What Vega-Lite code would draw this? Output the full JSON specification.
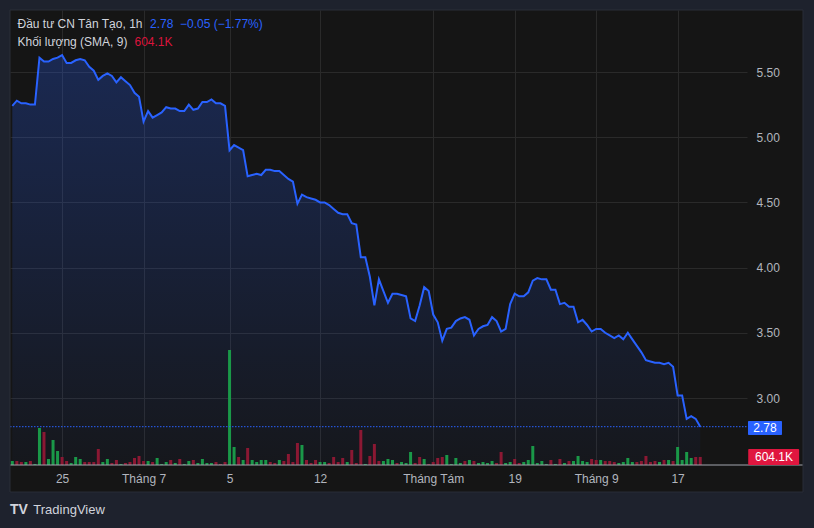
{
  "$schema": "https://vega.github.io/schema/vega-lite/v6.json",
  "width": 737,
  "height": 455,
  "autosize": {"type": "none"},
  "padding": {"left": 10, "top": 10, "right": 67, "bottom": 63},
  "background": "#151515",
  "view": {"fill": "#151515", "stroke": null},
  "config": {"font": "Liberation Sans"},
  "datasets": {
    "bars": [
      {"i":1,"c":5.24,"v":300,"s":"u"},{"i":2,"c":5.28,"v":300,"s":"d"},{"i":3,"c":5.26,"v":225,"s":"d"},{"i":4,"c":5.26,"v":225,"s":"u"},{"i":5,"c":5.25,"v":300,"s":"d"},
      {"i":6,"c":5.25,"v":75,"s":"u"},{"i":7,"c":5.61,"v":2775,"s":"u"},{"i":8,"c":5.58,"v":2475,"s":"d"},{"i":9,"c":5.58,"v":450,"s":"u"},{"i":10,"c":5.60,"v":1875,"s":"u"},
      {"i":11,"c":5.61,"v":1050,"s":"u"},{"i":12,"c":5.63,"v":600,"s":"d"},{"i":13,"c":5.57,"v":300,"s":"d"},{"i":14,"c":5.57,"v":150,"s":"u"},{"i":15,"c":5.59,"v":600,"s":"u"},
      {"i":16,"c":5.60,"v":450,"s":"u"},{"i":17,"c":5.59,"v":225,"s":"d"},{"i":18,"c":5.54,"v":225,"s":"d"},{"i":19,"c":5.51,"v":225,"s":"d"},{"i":20,"c":5.44,"v":1200,"s":"d"},
      {"i":21,"c":5.47,"v":225,"s":"u"},{"i":22,"c":5.49,"v":450,"s":"u"},{"i":23,"c":5.47,"v":150,"s":"d"},{"i":24,"c":5.42,"v":375,"s":"d"},{"i":25,"c":5.46,"v":75,"s":"u"},
      {"i":26,"c":5.43,"v":150,"s":"d"},{"i":27,"c":5.40,"v":225,"s":"d"},{"i":28,"c":5.34,"v":525,"s":"d"},{"i":29,"c":5.31,"v":675,"s":"d"},{"i":30,"c":5.12,"v":300,"s":"d"},
      {"i":31,"c":5.20,"v":300,"s":"u"},{"i":32,"c":5.15,"v":225,"s":"d"},{"i":33,"c":5.17,"v":525,"s":"u"},{"i":34,"c":5.19,"v":75,"s":"u"},{"i":35,"c":5.23,"v":225,"s":"u"},
      {"i":36,"c":5.22,"v":375,"s":"d"},{"i":37,"c":5.22,"v":150,"s":"u"},{"i":38,"c":5.20,"v":450,"s":"d"},{"i":39,"c":5.20,"v":75,"s":"u"},{"i":40,"c":5.25,"v":300,"s":"u"},
      {"i":41,"c":5.21,"v":375,"s":"d"},{"i":42,"c":5.22,"v":150,"s":"u"},{"i":43,"c":5.27,"v":450,"s":"u"},{"i":44,"c":5.27,"v":150,"s":"u"},{"i":45,"c":5.29,"v":150,"s":"u"},
      {"i":46,"c":5.26,"v":225,"s":"d"},{"i":47,"c":5.26,"v":75,"s":"d"},{"i":48,"c":5.24,"v":225,"s":"d"},{"i":49,"c":4.90,"v":8625,"s":"u"},{"i":50,"c":4.94,"v":1350,"s":"u"},
      {"i":51,"c":4.92,"v":600,"s":"d"},{"i":52,"c":4.90,"v":375,"s":"u"},{"i":53,"c":4.70,"v":1275,"s":"d"},{"i":54,"c":4.71,"v":375,"s":"u"},{"i":55,"c":4.72,"v":225,"s":"u"},
      {"i":56,"c":4.71,"v":375,"s":"u"},{"i":57,"c":4.75,"v":375,"s":"u"},{"i":58,"c":4.75,"v":225,"s":"d"},{"i":59,"c":4.74,"v":150,"s":"d"},{"i":60,"c":4.74,"v":375,"s":"u"},
      {"i":61,"c":4.71,"v":300,"s":"d"},{"i":62,"c":4.68,"v":825,"s":"d"},{"i":63,"c":4.66,"v":225,"s":"d"},{"i":64,"c":4.49,"v":1650,"s":"d"},{"i":65,"c":4.56,"v":1500,"s":"u"},
      {"i":66,"c":4.54,"v":375,"s":"d"},{"i":67,"c":4.53,"v":150,"s":"d"},{"i":68,"c":4.52,"v":375,"s":"d"},{"i":69,"c":4.50,"v":225,"s":"u"},{"i":70,"c":4.50,"v":225,"s":"u"},
      {"i":71,"c":4.48,"v":150,"s":"d"},{"i":72,"c":4.45,"v":600,"s":"d"},{"i":73,"c":4.42,"v":225,"s":"d"},{"i":74,"c":4.41,"v":525,"s":"d"},{"i":75,"c":4.41,"v":225,"s":"u"},
      {"i":76,"c":4.34,"v":1125,"s":"d"},{"i":77,"c":4.33,"v":150,"s":"d"},{"i":78,"c":4.08,"v":2625,"s":"d"},{"i":79,"c":4.08,"v":75,"s":"u"},{"i":80,"c":3.93,"v":675,"s":"d"},
      {"i":81,"c":3.71,"v":1575,"s":"d"},{"i":82,"c":3.91,"v":300,"s":"d"},{"i":83,"c":3.82,"v":300,"s":"u"},{"i":84,"c":3.73,"v":450,"s":"u"},{"i":85,"c":3.80,"v":375,"s":"u"},
      {"i":86,"c":3.80,"v":150,"s":"d"},{"i":87,"c":3.79,"v":225,"s":"u"},{"i":88,"c":3.78,"v":150,"s":"u"},{"i":89,"c":3.61,"v":975,"s":"u"},{"i":90,"c":3.59,"v":150,"s":"d"},
      {"i":91,"c":3.71,"v":600,"s":"d"},{"i":92,"c":3.85,"v":450,"s":"u"},{"i":93,"c":3.82,"v":75,"s":"d"},{"i":94,"c":3.64,"v":225,"s":"d"},{"i":95,"c":3.58,"v":525,"s":"d"},
      {"i":96,"c":3.44,"v":600,"s":"d"},{"i":97,"c":3.53,"v":750,"s":"u"},{"i":98,"c":3.54,"v":75,"s":"u"},{"i":99,"c":3.59,"v":525,"s":"u"},{"i":100,"c":3.61,"v":150,"s":"u"},
      {"i":101,"c":3.62,"v":300,"s":"d"},{"i":102,"c":3.60,"v":375,"s":"u"},{"i":103,"c":3.48,"v":300,"s":"d"},{"i":104,"c":3.53,"v":150,"s":"u"},{"i":105,"c":3.55,"v":225,"s":"u"},
      {"i":106,"c":3.56,"v":150,"s":"u"},{"i":107,"c":3.62,"v":300,"s":"u"},{"i":108,"c":3.59,"v":150,"s":"d"},{"i":109,"c":3.51,"v":975,"s":"d"},{"i":110,"c":3.53,"v":150,"s":"u"},
      {"i":111,"c":3.72,"v":225,"s":"u"},{"i":112,"c":3.80,"v":450,"s":"d"},{"i":113,"c":3.78,"v":150,"s":"d"},{"i":114,"c":3.78,"v":225,"s":"u"},{"i":115,"c":3.81,"v":375,"s":"u"},
      {"i":116,"c":3.90,"v":1425,"s":"u"},{"i":117,"c":3.92,"v":150,"s":"u"},{"i":118,"c":3.91,"v":300,"s":"u"},{"i":119,"c":3.91,"v":75,"s":"u"},{"i":120,"c":3.83,"v":375,"s":"d"},
      {"i":121,"c":3.83,"v":75,"s":"u"},{"i":122,"c":3.72,"v":450,"s":"d"},{"i":123,"c":3.73,"v":150,"s":"u"},{"i":124,"c":3.70,"v":300,"s":"d"},{"i":125,"c":3.70,"v":300,"s":"u"},
      {"i":126,"c":3.58,"v":675,"s":"u"},{"i":127,"c":3.60,"v":300,"s":"u"},{"i":128,"c":3.56,"v":225,"s":"u"},{"i":129,"c":3.51,"v":450,"s":"d"},{"i":130,"c":3.53,"v":375,"s":"d"},
      {"i":131,"c":3.53,"v":375,"s":"u"},{"i":132,"c":3.50,"v":300,"s":"d"},{"i":133,"c":3.48,"v":300,"s":"d"},{"i":134,"c":3.46,"v":225,"s":"d"},{"i":135,"c":3.48,"v":150,"s":"u"},
      {"i":136,"c":3.45,"v":225,"s":"u"},{"i":137,"c":3.50,"v":525,"s":"u"},{"i":138,"c":3.45,"v":225,"s":"u"},{"i":139,"c":3.40,"v":225,"s":"d"},{"i":140,"c":3.35,"v":300,"s":"d"},
      {"i":141,"c":3.29,"v":675,"s":"d"},{"i":142,"c":3.28,"v":225,"s":"d"},{"i":143,"c":3.27,"v":300,"s":"d"},{"i":144,"c":3.27,"v":225,"s":"u"},{"i":145,"c":3.26,"v":375,"s":"d"},
      {"i":146,"c":3.27,"v":375,"s":"u"},{"i":147,"c":3.24,"v":300,"s":"d"},{"i":148,"c":3.02,"v":1350,"s":"u"},{"i":149,"c":3.02,"v":375,"s":"u"},{"i":150,"c":2.84,"v":975,"s":"u"},
      {"i":151,"c":2.86,"v":525,"s":"u"},{"i":152,"c":2.84,"v":600,"s":"d"},{"i":153,"c":2.78,"v":604,"s":"d"}
    ]
  },
  "data": {"name": "bars"},
  "resolve": {"scale": {"y": "independent"}},
  "layer": [
    {
      "mark": {
        "type": "area",
        "color": {
          "gradient": "linear", "x1": 0, "y1": 0, "x2": 0, "y2": 1,
          "stops": [
            {"offset": 0, "color": "rgba(41,98,255,0.26)"},
            {"offset": 1, "color": "rgba(41,98,255,0.03)"}
          ]
        }
      },
      "encoding": {
        "x": {"field": "i", "type": "quantitative", "scale": {"domain": [0.49, 163.33], "nice": false, "zero": false, "padding": 0}},
        "y": {"field": "c", "type": "quantitative", "scale": {"domain": [2.4862, 5.9755], "nice": false, "zero": false}, "axis": null},
        "y2": {"datum": 2.4862}
      }
    },
    {
      "mark": {"type": "bar", "width": 3},
      "encoding": {
        "x": {"field": "i", "type": "quantitative", "scale": {"domain": [0.49, 163.33], "nice": false, "zero": false, "padding": 0}},
        "y": {"field": "v", "type": "quantitative", "scale": {"domain": [0, 34125], "nice": false}, "axis": null},
        "color": {"field": "s", "type": "nominal", "scale": {"domain": ["u", "d"], "range": ["#1a9848", "#8b1833"]}, "legend": null}
      }
    },
    {
      "mark": {"type": "line", "color": "#2962ff", "strokeWidth": 2},
      "encoding": {
        "x": {
          "field": "i", "type": "quantitative",
          "scale": {"domain": [0.49, 163.33], "nice": false, "zero": false, "padding": 0},
          "axis": {
            "title": null, "values": [12, 30, 49, 69, 94, 112, 130, 148],
            "labelExpr": "datum.value == 12 ? '25' : datum.value == 30 ? 'Tháng 7' : datum.value == 49 ? '5' : datum.value == 69 ? '12' : datum.value == 94 ? 'Tháng Tám' : datum.value == 112 ? '19' : datum.value == 130 ? 'Tháng 9' : '17'",
            "domain": false, "ticks": false, "tickSize": 0, "labelPadding": 8,
            "labelColor": "#b2b5be", "labelFontSize": 12, "labelFont": "Liberation Sans",
            "grid": true, "gridColor": "#2a2a2a", "gridWidth": 1, "zindex": 0
          }
        },
        "y": {
          "field": "c", "type": "quantitative",
          "scale": {"domain": [2.4862, 5.9755], "nice": false, "zero": false},
          "axis": {
            "orient": "right", "title": null, "values": [3, 3.5, 4, 4.5, 5, 5.5], "format": ".2f",
            "domain": false, "ticks": false, "tickSize": 0, "labelPadding": 9,
            "labelColor": "#b2b5be", "labelFontSize": 12, "labelFont": "Liberation Sans",
            "grid": true, "gridColor": "#2a2a2a", "gridWidth": 1, "zindex": 0
          }
        }
      }
    },
    {
      "data": {"values": [{}]},
      "mark": {"type": "rule", "color": "#2962ff", "strokeWidth": 1, "strokeDash": [1.5, 1.5], "clip": false},
      "encoding": {
        "x": {"datum": 0.49, "type": "quantitative", "scale": {"domain": [0.49, 163.33], "nice": false, "zero": false, "padding": 0}},
        "x2": {"datum": 163.55},
        "y": {"datum": 2.78, "type": "quantitative", "scale": {"domain": [2.4862, 5.9755], "nice": false, "zero": false}, "axis": null}
      }
    },
    {
      "data": {"values": [{}]},
      "mark": {"type": "rule", "color": "#a3a6af", "strokeWidth": 1, "clip": false},
      "encoding": {
        "x": {"datum": 0.49, "type": "quantitative", "scale": {"domain": [0.49, 163.33], "nice": false, "zero": false, "padding": 0}},
        "x2": {"datum": 175.7},
        "y": {"datum": 2.4862, "type": "quantitative", "scale": {"domain": [2.4862, 5.9755], "nice": false, "zero": false}, "axis": null}
      }
    },
    {
      "data": {"values": [{}]},
      "mark": {"type": "rect", "fill": "#2962ff", "clip": false, "cornerRadius": 1},
      "encoding": {
        "x": {"datum": 163.55, "type": "quantitative", "scale": {"domain": [0.49, 163.33], "nice": false, "zero": false, "padding": 0}},
        "x2": {"datum": 171.06},
        "y": {"datum": 2.8236, "type": "quantitative", "scale": {"domain": [2.4862, 5.9755], "nice": false, "zero": false}, "axis": null},
        "y2": {"datum": 2.7162}
      }
    },
    {
      "data": {"values": [{}]},
      "mark": {"type": "text", "color": "#ffffff", "fontSize": 12, "font": "Liberation Sans", "align": "center", "baseline": "middle", "clip": false},
      "encoding": {
        "x": {"datum": 167.3, "type": "quantitative", "scale": {"domain": [0.49, 163.33], "nice": false, "zero": false, "padding": 0}},
        "y": {"datum": 2.770, "type": "quantitative", "scale": {"domain": [2.4862, 5.9755], "nice": false, "zero": false}, "axis": null},
        "text": {"value": "2.78"}
      }
    },
    {
      "data": {"values": [{}]},
      "mark": {"type": "rect", "fill": "#e0163f", "clip": false, "cornerRadius": 1},
      "encoding": {
        "x": {"datum": 163.6, "type": "quantitative", "scale": {"domain": [0.49, 163.33], "nice": false, "zero": false, "padding": 0}},
        "x2": {"datum": 174.85},
        "y": {"datum": 2.609, "type": "quantitative", "scale": {"domain": [2.4862, 5.9755], "nice": false, "zero": false}, "axis": null},
        "y2": {"datum": 2.4862}
      }
    },
    {
      "data": {"values": [{}]},
      "mark": {"type": "text", "color": "#ffffff", "fontSize": 12, "font": "Liberation Sans", "align": "center", "baseline": "middle", "clip": false},
      "encoding": {
        "x": {"datum": 169.3, "type": "quantitative", "scale": {"domain": [0.49, 163.33], "nice": false, "zero": false, "padding": 0}},
        "y": {"datum": 2.548, "type": "quantitative", "scale": {"domain": [2.4862, 5.9755], "nice": false, "zero": false}, "axis": null},
        "text": {"value": "604.1K"}
      }
    },
    {
      "data": {"values": [{}]},
      "mark": {"type": "text", "color": "#d1d4dc", "fontSize": 12, "font": "Liberation Sans", "align": "left", "baseline": "middle", "clip": false},
      "encoding": {
        "x": {"datum": 2.147, "type": "quantitative", "scale": {"domain": [0.49, 163.33], "nice": false, "zero": false, "padding": 0}},
        "y": {"datum": 5.866, "type": "quantitative", "scale": {"domain": [2.4862, 5.9755], "nice": false, "zero": false}, "axis": null},
        "text": {"value": "Đầu tư CN Tân Tạo, 1h"}
      }
    },
    {
      "data": {"values": [{}]},
      "mark": {"type": "text", "color": "#2962ff", "fontSize": 12, "font": "Liberation Sans", "align": "left", "baseline": "middle", "clip": false},
      "encoding": {
        "x": {"datum": 31.42, "type": "quantitative", "scale": {"domain": [0.49, 163.33], "nice": false, "zero": false, "padding": 0}},
        "y": {"datum": 5.866, "type": "quantitative", "scale": {"domain": [2.4862, 5.9755], "nice": false, "zero": false}, "axis": null},
        "text": {"value": "2.78"}
      }
    },
    {
      "data": {"values": [{}]},
      "mark": {"type": "text", "color": "#2962ff", "fontSize": 12, "font": "Liberation Sans", "align": "left", "baseline": "middle", "clip": false},
      "encoding": {
        "x": {"datum": 38.05, "type": "quantitative", "scale": {"domain": [0.49, 163.33], "nice": false, "zero": false, "padding": 0}},
        "y": {"datum": 5.866, "type": "quantitative", "scale": {"domain": [2.4862, 5.9755], "nice": false, "zero": false}, "axis": null},
        "text": {"value": "−0.05 (−1.77%)"}
      }
    },
    {
      "data": {"values": [{}]},
      "mark": {"type": "text", "color": "#d1d4dc", "fontSize": 12, "font": "Liberation Sans", "align": "left", "baseline": "middle", "clip": false},
      "encoding": {
        "x": {"datum": 2.147, "type": "quantitative", "scale": {"domain": [0.49, 163.33], "nice": false, "zero": false, "padding": 0}},
        "y": {"datum": 5.728, "type": "quantitative", "scale": {"domain": [2.4862, 5.9755], "nice": false, "zero": false}, "axis": null},
        "text": {"value": "Khối lượng (SMA, 9)"}
      }
    },
    {
      "data": {"values": [{}]},
      "mark": {"type": "text", "color": "#dc143c", "fontSize": 12, "font": "Liberation Sans", "align": "left", "baseline": "middle", "clip": false},
      "encoding": {
        "x": {"datum": 27.99, "type": "quantitative", "scale": {"domain": [0.49, 163.33], "nice": false, "zero": false, "padding": 0}},
        "y": {"datum": 5.728, "type": "quantitative", "scale": {"domain": [2.4862, 5.9755], "nice": false, "zero": false}, "axis": null},
        "text": {"value": "604.1K"}
      }
    },
    {
      "data": {"values": [{"x1": -3, "x2": 0.49, "y1": 6.2, "y2": 1.8}, {"x1": 175.7, "x2": 181, "y1": 6.2, "y2": 1.8}, {"x1": -3, "x2": 181, "y1": 6.2, "y2": 5.9755}, {"x1": -3, "x2": 181, "y1": 2.279, "y2": 1.8}]},
      "mark": {"type": "rect", "fill": "#1e222d", "clip": false},
      "encoding": {
        "x": {"field": "x1", "type": "quantitative", "scale": {"domain": [0.49, 163.33], "nice": false, "zero": false, "padding": 0}},
        "x2": {"field": "x2"},
        "y": {"field": "y1", "type": "quantitative", "scale": {"domain": [2.4862, 5.9755], "nice": false, "zero": false}, "axis": null},
        "y2": {"field": "y2"}
      }
    },
    {
      "data": {"values": [{}]},
      "mark": {"type": "rect", "filled": false, "stroke": "#2a2e39", "strokeWidth": 1, "clip": false},
      "encoding": {
        "x": {"datum": 0.49, "type": "quantitative", "scale": {"domain": [0.49, 163.33], "nice": false, "zero": false, "padding": 0}},
        "x2": {"datum": 175.7},
        "y": {"datum": 5.9755, "type": "quantitative", "scale": {"domain": [2.4862, 5.9755], "nice": false, "zero": false}, "axis": null},
        "y2": {"datum": 2.279}
      }
    },
    {
      "data": {"values": [{}]},
      "mark": {"type": "text", "color": "#d1d4dc", "fontSize": 13, "font": "Liberation Sans", "align": "left", "baseline": "middle", "clip": false},
      "encoding": {
        "x": {"datum": 5.64, "type": "quantitative", "scale": {"domain": [0.49, 163.33], "nice": false, "zero": false, "padding": 0}},
        "y": {"datum": 2.141, "type": "quantitative", "scale": {"domain": [2.4862, 5.9755], "nice": false, "zero": false}, "axis": null},
        "text": {"value": "TradingView"}
      }
    },
    {
      "data": {"values": [{}]},
      "mark": {"type": "text", "color": "#d1d4dc", "fontSize": 14, "fontWeight": "bold", "font": "Liberation Sans", "align": "left", "baseline": "middle", "clip": false},
      "encoding": {
        "x": {"datum": 0.49, "type": "quantitative", "scale": {"domain": [0.49, 163.33], "nice": false, "zero": false, "padding": 0}},
        "y": {"datum": 2.141, "type": "quantitative", "scale": {"domain": [2.4862, 5.9755], "nice": false, "zero": false}, "axis": null},
        "text": {"value": "TV"}
      }
    }
  ]
}
